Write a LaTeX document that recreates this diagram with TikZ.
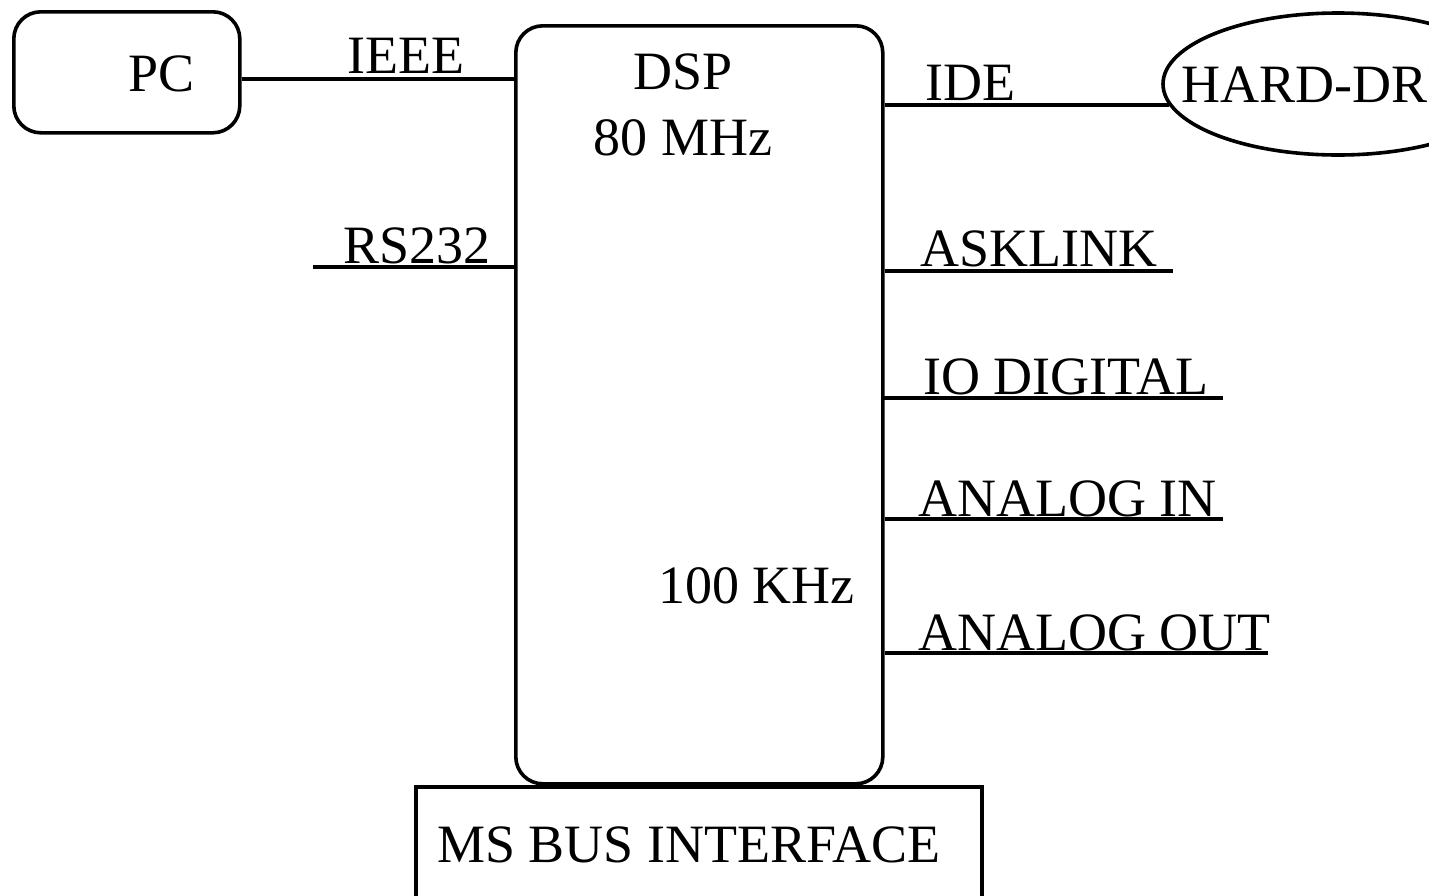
\documentclass[tikz,border=0pt]{standalone}
\usepackage{fontspec}
\setmainfont{Liberation Serif}
\usetikzlibrary{shapes.geometric}
\begin{document}
\begin{tikzpicture}[x=1pt,y=-1pt,
  lw/.style={line width=3.6pt},
  rbox/.style={draw, lw, rounded corners=27pt, inner sep=0pt, anchor=north west},
  sbox/.style={draw, lw, inner sep=0pt, anchor=north west},
  lbl/.style={inner sep=0pt, anchor=base west, font=\fontsize{54}{66}\selectfont},
  clbl/.style={lbl, anchor=base},
  wire/.style={lw}]
\useasboundingbox (0,0) rectangle (1429,895);
\clip (0,0) rectangle (1429,895);
\fill[white] (0,0) rectangle (1429,895);
% blocks
\node[rbox, minimum width=226pt, minimum height=121pt] (pc) at (12,10) {};
\node[rbox, minimum width=367pt, minimum height=758pt] (dsp) at (514,24) {};
\node[sbox, minimum width=566pt, minimum height=140pt] (ms) at (414,785) {};
\node[draw, lw, ellipse, inner sep=0pt, minimum width=350pt, minimum height=142pt] (hd) at (1338,84) {};
% texts
\node[lbl] (tpc) at (128,91) {PC};
\node[clbl] (tdsp) at (683,89) {DSP};
\node[clbl] (tmhz) at (683,155) {80 MHz};
\node[lbl] (tkhz) at (658,603) {100 KHz};
\node[lbl] (tms) at (437,862) {MS BUS INTERFACE};
\node[lbl] (thd) at (1181,102) {HARD-DRIVE};
\node[lbl] (tieee) at (347,73) {IEEE};
\node[lbl] (trs) at (343,263) {RS232};
\node[lbl] (tide) at (925,100) {IDE};
\node[lbl] (task) at (920,266) {ASKLINK};
\node[lbl] (tio) at (923,394) {IO DIGITAL};
\node[lbl] (tain) at (918,516) {ANALOG IN};
\node[lbl] (taout) at (918,650) {ANALOG OUT};
% free ends
\coordinate (rsend) at (313,267);
\coordinate (askend) at (1173,271);
\coordinate (ioend) at (1223,398);
\coordinate (ainend) at (1223,519);
\coordinate (aoutend) at (1268,653);
% connectors
\draw[wire] (pc.east |- 0,79) -- (dsp.west |- 0,79);
\draw[wire] (rsend) -- (dsp.west |- rsend);
\draw[wire] (dsp.east |- hd.187) -- (hd.187);
\draw[wire] (dsp.east |- askend) -- (askend);
\draw[wire] ([xshift=-3pt]dsp.east |- ioend) -- (ioend);
\draw[wire] (dsp.east |- ainend) -- (ainend);
\draw[wire] (dsp.east |- aoutend) -- (aoutend);
\end{tikzpicture}
\end{document}
